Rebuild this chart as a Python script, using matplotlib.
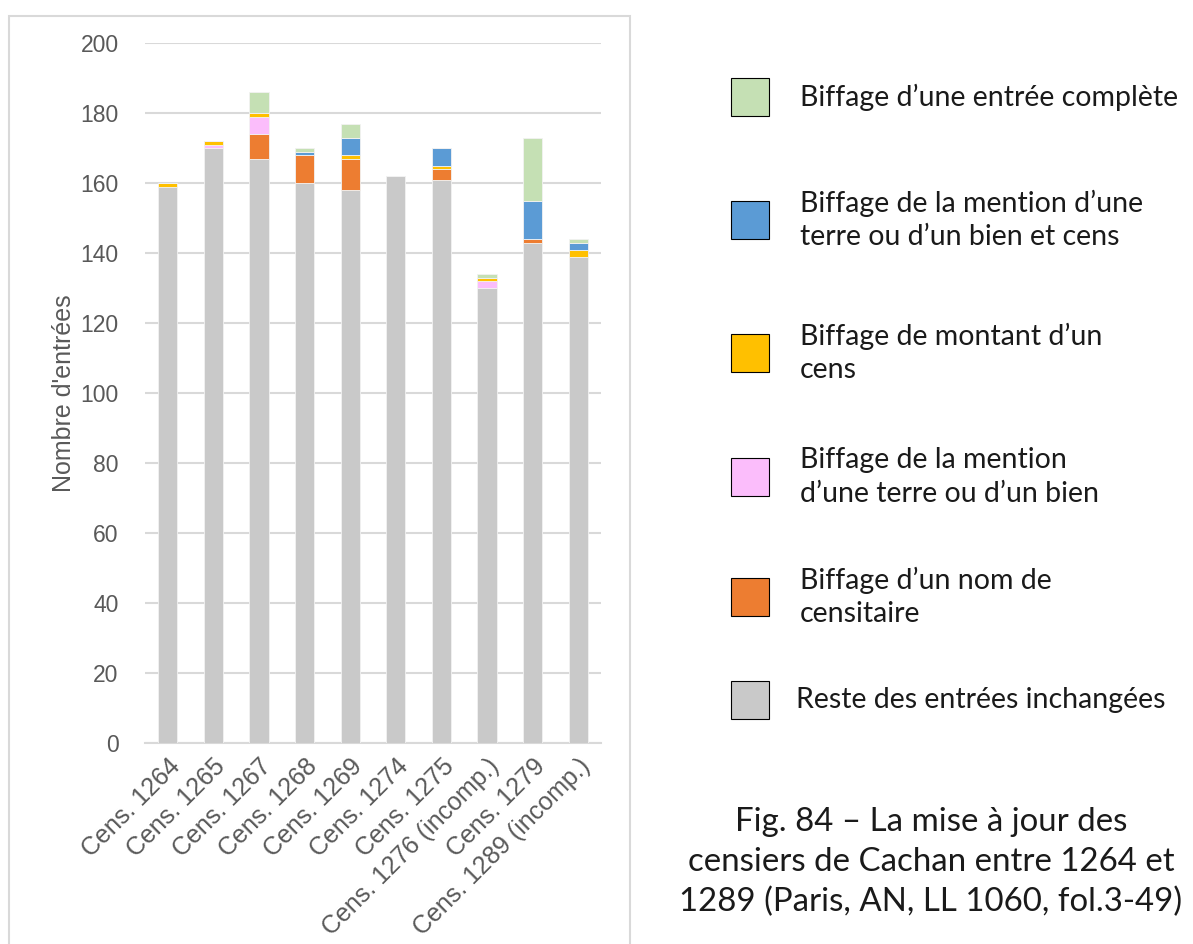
import matplotlib.pyplot as plt
from matplotlib.patches import Rectangle
import numpy as np

# registres (censiers) et nombre d'entrées par type de modification
censiers = ['Cens. 1264', 'Cens. 1265', 'Cens. 1267', 'Cens. 1268', 'Cens. 1269',
            'Cens. 1274', 'Cens. 1275', 'Cens. 1276 (incomp.)', 'Cens. 1279',
            'Cens. 1289 (incomp.)']
reste = [159, 170, 167, 160, 158, 162, 161, 130, 143, 139]
nom_censitaire = [0, 0, 7, 8, 9, 0, 3, 0, 1, 0]
terre_bien = [0, 1, 5, 0, 0, 0, 0, 2, 0, 0]
montant_cens = [1, 1, 1, 0, 1, 0, 1, 1, 0, 2]
terre_bien_cens = [0, 0, 0, 1, 5, 0, 5, 0, 11, 2]
entree_complete = [0, 0, 6, 1, 4, 0, 0, 1, 18, 1]

series = [
    ("Reste des entrées inchangées", reste, '#C9C9C9'),
    ("Biffage d’un nom de\ncensitaire", nom_censitaire, '#ED7D31'),
    ("Biffage de la mention\nd’une terre ou d’un bien", terre_bien, '#FBBDFB'),
    ("Biffage de montant d’un\ncens", montant_cens, '#FFC000'),
    ("Biffage de la mention d’une\nterre ou d’un bien et cens", terre_bien_cens, '#5B9BD5'),
    ("Biffage d’une entrée complète", entree_complete, '#C5E0B4'),
]

fig = plt.figure(figsize=(11.93, 9.44), dpi=100)
ax = fig.add_axes([0.1215, 0.2129, 0.3823, 0.7415])

x = np.arange(len(censiers))
bottom = np.zeros(len(censiers))
for label, vals, color in series:
    vals = np.array(vals, dtype=float)
    ax.bar(x, vals, bottom=bottom, width=0.42, color=color,
           edgecolor='#F2F2F2', linewidth=0.6, zorder=3)
    bottom += vals

ax.set_xlim(-0.5, len(censiers) - 0.5)
ax.set_ylim(0, 200)
ax.set_yticks(range(0, 201, 20))
ax.yaxis.grid(True, color='#D9D9D9', linewidth=1.5, zorder=0)
for s in ['top', 'right', 'left']:
    ax.spines[s].set_visible(False)
ax.spines['bottom'].set_color('#D9D9D9')
ax.spines['bottom'].set_linewidth(1.5)
ax.tick_params(axis='y', length=0, labelsize=16.5, labelcolor='#595959', pad=19)
ax.tick_params(axis='x', length=0, labelsize=18, labelcolor='#595959', pad=8)
ax.set_xticks(x)
ax.set_xticklabels(censiers, rotation=45, ha='right', rotation_mode='anchor',
                   family='Liberation Sans')
for t in ax.get_yticklabels():
    t.set_family('Liberation Sans')
ax.set_ylabel("Nombre d'entrées", fontsize=18, color='#595959',
              family='Liberation Sans', labelpad=3)

# cadre du graphique
fig.patches.append(Rectangle((9 / 1193, -0.01), 621 / 1193, 1 - 16 / 944 + 0.01,
                             transform=fig.transFigure, fill=False,
                             edgecolor='#D9D9D9', linewidth=1.5))

# légende dessinée à la main, de haut en bas
legend_y = [97, 220, 353, 477, 597, 700]
text_x = [800, 800, 800, 800, 800, 796]
for (label, vals, color), yc, tx in zip(series[::-1], legend_y, text_x):
    fig.patches.append(Rectangle((731 / 1193, 1 - (yc + 19) / 944), 38 / 1193, 38 / 944,
                                 transform=fig.transFigure, facecolor=color,
                                 edgecolor='black', linewidth=0.8))
    fig.text(tx / 1193, 1 - yc / 944, label, fontsize=20.5, family='Lato',
             color='#1A1A1A', va='center', ha='left', linespacing=1.35)

fig.text(931 / 1193, 1 - 862 / 944,
         "Fig. 84 – La mise à jour des\ncensiers de Cachan entre 1264 et\n1289 (Paris, AN, LL 1060, fol.3-49)",
         fontsize=23.8, family='Lato', color='#1A1A1A',
         ha='center', va='center', linespacing=1.4)

fig.savefig('out.png', dpi=100)
